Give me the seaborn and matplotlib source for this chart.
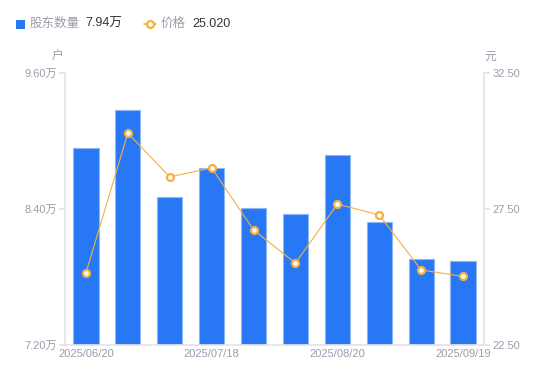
import numpy as np
import pandas as pd
import seaborn as sns
import matplotlib.pyplot as plt
from matplotlib.lines import Line2D
from matplotlib.patches import Rectangle

dates = ["2025/06/20", "2025/06/30", "2025/07/10", "2025/07/18", "2025/07/31",
         "2025/08/10", "2025/08/20", "2025/08/31", "2025/09/10", "2025/09/19"]
holders = [8.94, 9.27, 8.51, 8.76, 8.41, 8.36, 8.88, 8.285, 7.96, 7.94]  # 万户
price = [25.15, 30.29, 28.68, 29.01, 26.73, 25.51, 27.68, 27.28, 25.26, 25.02]
shown_dates = ["2025/06/20", "2025/07/18", "2025/08/20", "2025/09/19"]

sns.set_theme(style="white")
plt.rcParams['font.family'] = ['Liberation Sans', 'Noto Sans CJK SC', 'DejaVu Sans']

blue = "#2878F5"
orange = "#F5B041"
grey = "#9A9CAB"
axis_c = "#E3E4E8"

fig = plt.figure(figsize=(5.5, 3.81), dpi=100)
ax = fig.add_axes([65 / 550, 36 / 381, 419 / 550, 272 / 381])

df = pd.DataFrame({"date": dates, "holders": holders, "price": price})
sns.barplot(data=df, x="date", y="holders", color=blue, saturation=1, width=0.6,
            edgecolor="#8DB6F7", linewidth=0.8, ax=ax)
ax.set_ylim(7.2, 9.6)
ax.set_xlim(-0.5, len(dates) - 0.5)
ax.set_yticks([7.2, 8.4, 9.6])
ax.set_yticklabels([f"{v:.2f}万" for v in [7.2, 8.4, 9.6]])
ticks = [dates.index(d) for d in shown_dates]
ax.set_xticks(ticks)
ax.set_xticklabels(shown_dates)
ax.set_xlabel("")
ax.set_ylabel("")

ax2 = ax.twinx()
sns.lineplot(x=np.arange(len(price)), y=price, color=orange, linewidth=0.8,
             marker="o", markersize=5, markerfacecolor="white",
             markeredgecolor=orange, markeredgewidth=1.6, ax=ax2)
ax2.set_ylim(22.5, 32.5)
ax2.set_yticks([22.5, 27.5, 32.5])
ax2.set_yticklabels([f"{v:.2f}" for v in [22.5, 27.5, 32.5]])
ax2.set_ylabel("")

for a in (ax, ax2):
    for s in a.spines.values():
        s.set_visible(False)
    a.tick_params(colors=grey, labelsize=8, length=0)
ax.spines['left'].set_visible(True)
ax.spines['left'].set_color(axis_c)
ax.spines['bottom'].set_visible(True)
ax.spines['bottom'].set_color(axis_c)
ax2.spines['right'].set_visible(True)
ax2.spines['right'].set_color(axis_c)
ax.tick_params(axis='y', length=4, color=axis_c, pad=2)
ax2.tick_params(axis='y', length=4, color=axis_c, pad=2)
ax.tick_params(axis='x', pad=3)

fig.text(57 / 550, 1 - 57 / 381, "户", color=grey, fontsize=8.5, ha="center", va="center")
fig.text(490 / 550, 1 - 57 / 381, "元", color=grey, fontsize=8.5, ha="center", va="center")

# legend
fig.patches.append(Rectangle((16 / 550, 1 - 29 / 381), 9 / 550, 9 / 381, transform=fig.transFigure,
                             facecolor=blue, edgecolor="none"))
fig.text(30 / 550, 1 - 24 / 381, "股东数量", color=grey, fontsize=9, va="center")
fig.text(85 / 550, 1 - 24 / 381, f"{holders[-1]:.2f}万", color="#333333", fontsize=9, va="center")
fig.lines.append(Line2D([144 / 550, 156 / 550], [1 - 24 / 381, 1 - 24 / 381], transform=fig.transFigure,
                        color=orange, linewidth=1.2))
fig.lines.append(Line2D([150 / 550], [1 - 24 / 381], transform=fig.transFigure, color=orange,
                        marker="o", markersize=5, markerfacecolor="white", markeredgewidth=1.6))
fig.text(161 / 550, 1 - 24 / 381, "价格", color=grey, fontsize=9, va="center")
fig.text(192 / 550, 1 - 24 / 381, f"{price[-1]:.3f}", color="#333333", fontsize=9, va="center")

fig.savefig("out.png", dpi=100)
